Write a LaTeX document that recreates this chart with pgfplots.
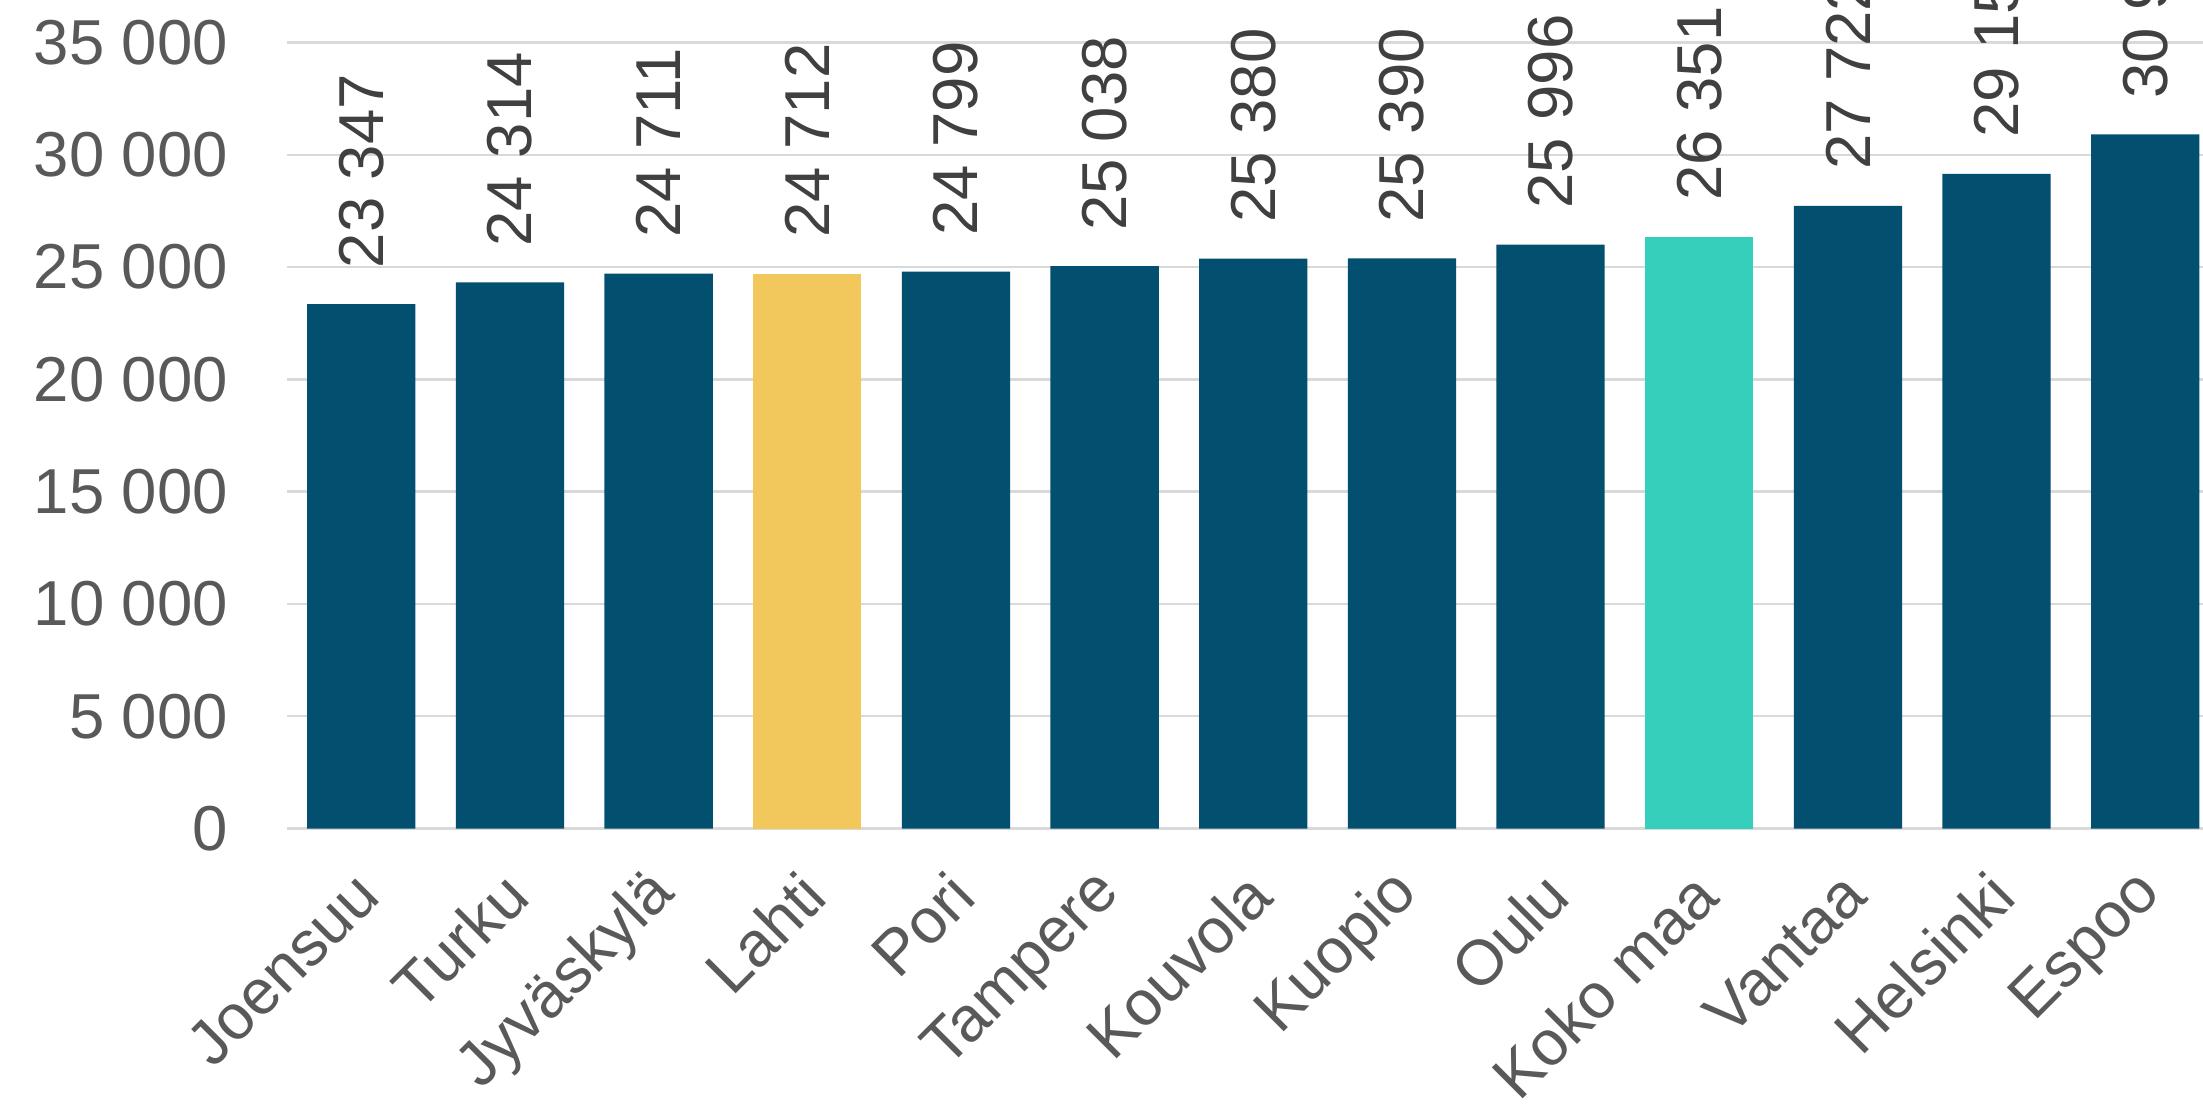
\documentclass[border=0pt]{standalone}
\usepackage{pgfplots}
\pgfplotsset{compat=1.18}
\usepackage{fontspec}
\setmainfont{Liberation Sans}
\definecolor{darkblue}{HTML}{024F70}
\definecolor{gold}{HTML}{F2C75C}
\definecolor{teal2}{HTML}{36CFBB}
\definecolor{tickgray}{HTML}{595959}
\definecolor{labgray}{HTML}{404040}
\definecolor{gridgray}{HTML}{D9D9D9}
\begin{document}
\begin{tikzpicture}
\begin{axis}[
 at={(57.4pt,54.9pt)}, anchor=south west,
 scale only axis, width=386.5pt, height=157.2pt,
 xmin=-0.5, xmax=12.5, ymin=0, ymax=35000,
 ytick={0,5000,...,35000}, xtick={0,...,12},
 xticklabels={Joensuu,Turku,Jyväskylä,Lahti,Pori,Tampere,Kouvola,Kuopio,Oulu,Koko maa,Vantaa,Helsinki,Espoo},
 scaled y ticks=false,
 axis line style={draw=none},
 major tick length=0pt,
 ymajorgrids, grid style={gridgray, line width=0.5pt},
 ybar, bar width=0.7285, bar shift=0pt,
 clip=false,
 /pgf/number format/assume math mode=true,
 /pgf/number format/1000 sep={\ },
 tick label style={font=\fontsize{12.7}{15}\selectfont, text=tickgray},
 yticklabel style={inner sep=0pt, xshift=-11.6pt},
 xticklabel style={inner sep=0pt, anchor=east, xshift=1.4pt, yshift=-11pt, rotate=45},
 nodes near coords,
 every node near coord/.append style={font=\fontsize{12.7}{15}\selectfont, text=labgray, inner sep=0pt, anchor=west, yshift=7pt, rotate=90},
]
\addplot[draw=none, fill=darkblue] coordinates {(0,23347) (1,24314) (2,24711) (4,24799) (5,25038) (6,25380) (7,25390) (8,25996) (10,27722) (11,29153) (12,30910)};
\addplot[draw=none, fill=gold] coordinates {(3,24712)};
\addplot[draw=none, fill=teal2] coordinates {(9,26351)};
\end{axis}
\pgfresetboundingbox
\path[use as bounding box] (0,0) rectangle (440.6pt,220.6pt);
\end{tikzpicture}
\end{document}
